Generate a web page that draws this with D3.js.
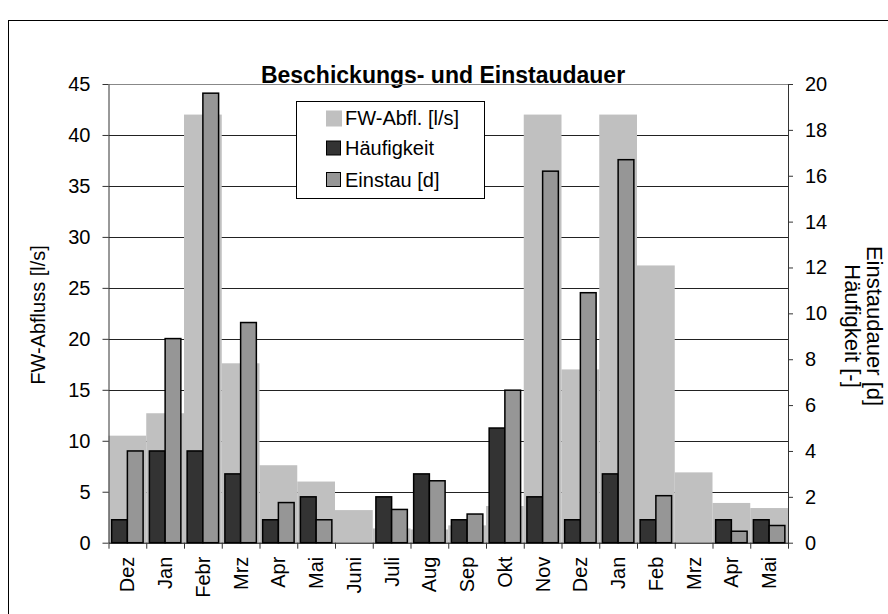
<!DOCTYPE html>
<html><head><meta charset="utf-8">
<script src="https://cdn.jsdelivr.net/npm/d3@7"></script>
<style>
body{margin:0;background:#fff}
text{font-family:"Liberation Sans",Arial,sans-serif;fill:#000}
</style>
</head><body><svg id="c" width="888" height="614"></svg>
<script>
// ---- data ----
const months = ["Dez","Jan","Febr","Mrz","Apr","Mai","Juni","Juli","Aug","Sep","Okt","Nov","Dez","Jan","Feb","Mrz","Apr","Mai"];
const fwAbfl = [10.5, 12.7, 42, 17.6, 7.6, 6.0, 3.2, 1.4, 1.3, 1.7, 3.6, 42, 17, 42, 27.2, 6.9, 3.9, 3.4];
const haeufigkeit = [1, 4, 4, 3, 1, 2, 0, 2, 3, 1, 5, 2, 1, 3, 1, 0, 1, 1];
const einstau = [4.0, 8.9, 19.6, 9.6, 1.75, 1.0, 0, 1.45, 2.7, 1.25, 6.65, 16.2, 10.9, 16.7, 2.05, 0, 0.5, 0.75];
const leftTicks = [0, 5, 10, 15, 20, 25, 30, 35, 40, 45];
const rightTicks = [0, 2, 4, 6, 8, 10, 12, 14, 16, 18, 20];
const legendLabels = ["FW-Abfl. [l/s]", "Häufigkeit", "Einstau [d]"];
const colors = {fw:"#c0c0c0", h:"#333333", e:"#969696"};

const svg = d3.select("#c");
const L = 108.5, R = 788, T = 84, B = 542.7;

const x = d3.scaleBand().domain(d3.range(months.length)).range([L, R]).padding(0);
const xs = d3.scaleBand().domain(["h","e"]).range([0, x.bandwidth()]).paddingInner(0).paddingOuter(0.2);
const xEdge = d3.scaleLinear().domain([0, months.length]).range([L, R]);
const yL = d3.scaleLinear().domain([0, 45]).range([B, T]);
const yR = d3.scaleLinear().domain([0, 20]).range([B, T]);

// outer frame
svg.append("rect").attr("x", 8.5).attr("y", 20.5).attr("width", 900).attr("height", 700)
  .attr("fill", "none").attr("stroke", "#000").attr("stroke-width", 1);

// title
svg.append("text").attr("x", 443).attr("y", 83).attr("text-anchor", "middle")
  .style("font-size", "23px").style("font-weight", "bold").text("Beschickungs- und Einstaudauer");

// gridlines
svg.append("g").selectAll("line").data(leftTicks.filter(d => d > 0)).join("line")
  .attr("x1", L).attr("x2", R)
  .attr("y1", d => Math.round(yL(d)) + 0.5).attr("y2", d => Math.round(yL(d)) + 0.5)
  .attr("stroke", d => d === 45 ? "#888" : "#222").attr("stroke-width", 1);

// FW bars
svg.append("g").selectAll("rect").data(fwAbfl).join("rect")
  .attr("x", (d, i) => x(i)).attr("width", x.bandwidth())
  .attr("y", d => yL(d)).attr("height", d => B - yL(d))
  .attr("fill", colors.fw);

// Häufigkeit & Einstau bars
const pairs = months.map((m, i) => ({i, h: haeufigkeit[i], e: einstau[i]}));
const gp = svg.append("g");
["h", "e"].forEach(k => {
  gp.selectAll("rect." + k).data(pairs.filter(p => p[k] > 0)).join("rect")
    .attr("class", k)
    .attr("x", p => x(p.i) + xs(k)).attr("width", xs.bandwidth())
    .attr("y", p => yR(p[k])).attr("height", p => B - yR(p[k]))
    .attr("fill", colors[k]).attr("stroke", "#000").attr("stroke-width", 1.5);
});

// left axis
const ax = svg.append("g").attr("transform", `translate(${L},0)`)
  .call(d3.axisLeft(yL).tickValues(leftTicks).tickSize(6).tickSizeOuter(0).tickPadding(12));
ax.select(".domain").attr("stroke", "#333");
ax.selectAll("line").attr("stroke", "#333");
ax.selectAll("text").style("font-size", "20px").style("font-family", '"Liberation Sans",Arial,sans-serif');

// right axis
const ar = svg.append("g").attr("transform", `translate(${R},0)`)
  .call(d3.axisRight(yR).tickValues(rightTicks).tickSize(5).tickSizeOuter(0).tickPadding(12));
ar.select(".domain").attr("stroke", "#333");
ar.selectAll("line").attr("stroke", "#333");
ar.selectAll("text").style("font-size", "20px").style("font-family", '"Liberation Sans",Arial,sans-serif');

// bottom axis ticks at category boundaries
const ab = svg.append("g").attr("transform", `translate(0,${B})`)
  .call(d3.axisBottom(xEdge).tickValues(d3.range(months.length + 1)).tickSize(6).tickSizeOuter(0).tickFormat(""));
ab.select(".domain").attr("stroke", "#000");
ab.selectAll("line").attr("stroke", "#333");

// bottom labels
const al = svg.append("g").attr("transform", `translate(0,${B})`)
  .call(d3.axisBottom(x).tickSize(0).tickFormat(i => months[i]));
al.select(".domain").remove();
al.selectAll("text")
  .attr("transform", "rotate(-90)").attr("x", -14).attr("y", 0).attr("dy", "0.35em")
  .style("text-anchor", "end").style("font-size", "20px")
  .style("font-family", '"Liberation Sans",Arial,sans-serif');

// axis titles
svg.append("text").attr("transform", "translate(45,315) rotate(-90)").attr("text-anchor", "middle")
  .style("font-size", "20px").text("FW-Abfluss [l/s]");
svg.append("text").attr("transform", "translate(867,326) rotate(90)").attr("text-anchor", "middle")
  .style("font-size", "22px").text("Einstaudauer [d]");
svg.append("text").attr("transform", "translate(845,326) rotate(90)").attr("text-anchor", "middle")
  .style("font-size", "22px").text("Häufigkeit [-]");

// legend
const lg = svg.append("g");
lg.append("rect").attr("x", 296.5).attr("y", 101.5).attr("width", 188).attr("height", 97)
  .attr("fill", "#fff").attr("stroke", "#000").attr("stroke-width", 1);
const keys = ["fw", "h", "e"];
const rowY = [118, 148.5, 180];
keys.forEach((k, j) => {
  lg.append("rect").attr("x", k === "fw" ? 326 : 326.5).attr("y", rowY[j] - 7.5)
    .attr("width", k === "fw" ? 16 : 14).attr("height", k === "fw" ? 16 : 14)
    .attr("fill", colors[k]).attr("stroke", k === "fw" ? "none" : "#000").attr("stroke-width", 1);
  lg.append("text").attr("x", 345).attr("y", rowY[j] + 6.5).style("font-size", "20px").text(legendLabels[j]);
});
</script>
</body></html>
